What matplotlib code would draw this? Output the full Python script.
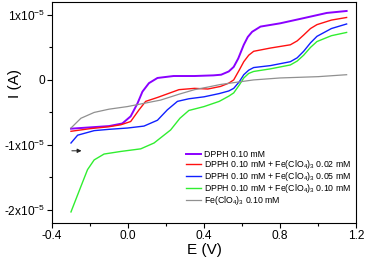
import numpy as np
import matplotlib
matplotlib.use("Agg")
import matplotlib.pyplot as plt

plt.rcParams['font.family'] = ['Liberation Sans', 'DejaVu Sans']
plt.rcParams['mathtext.fontset'] = 'custom'
plt.rcParams['mathtext.rm'] = 'Liberation Sans'
plt.rcParams['mathtext.it'] = 'Liberation Sans'

# potentials (V) and currents (units of 1e-5 A)
e_dpph = [-0.30, -0.2, -0.1, -0.03, 0.014, 0.05, 0.076, 0.11, 0.155, 0.24, 0.35, 0.45, 0.49, 0.53, 0.556, 0.58, 0.609, 0.63, 0.653, 0.697, 0.8, 0.924, 1.046, 1.15]
i_dpph = [-0.75, -0.73, -0.71, -0.67, -0.56, -0.36, -0.18, -0.05, 0.03, 0.06, 0.06, 0.07, 0.08, 0.13, 0.20, 0.33, 0.54, 0.66, 0.74, 0.82, 0.87, 0.95, 1.03, 1.06]

e_red = [-0.30, -0.2, -0.1, -0.038, 0.014, 0.058, 0.093, 0.155, 0.268, 0.35, 0.42, 0.487, 0.53, 0.556, 0.585, 0.609, 0.635, 0.661, 0.749, 0.854, 0.89, 0.924, 0.96, 0.994, 1.07, 1.15]
i_red = [-0.79, -0.75, -0.72, -0.69, -0.64, -0.46, -0.33, -0.27, -0.15, -0.13, -0.14, -0.10, -0.05, 0.0, 0.15, 0.28, 0.38, 0.44, 0.49, 0.54, 0.60, 0.69, 0.79, 0.85, 0.92, 0.96]

e_blue = [-0.30, -0.265, -0.178, -0.1, -0.003, 0.084, 0.155, 0.207, 0.26, 0.32, 0.4, 0.48, 0.53, 0.556, 0.585, 0.609, 0.635, 0.661, 0.749, 0.854, 0.89, 0.924, 0.96, 0.994, 1.07, 1.15]
i_blue = [-0.97, -0.85, -0.78, -0.76, -0.74, -0.71, -0.62, -0.46, -0.33, -0.29, -0.26, -0.21, -0.17, -0.13, -0.03, 0.08, 0.15, 0.19, 0.22, 0.28, 0.34, 0.44, 0.57, 0.67, 0.79, 0.86]

e_green = [-0.30, -0.248, -0.213, -0.178, -0.126, -0.038, 0.067, 0.137, 0.224, 0.273, 0.32, 0.4, 0.48, 0.53, 0.556, 0.585, 0.609, 0.635, 0.661, 0.749, 0.854, 0.89, 0.924, 0.96, 0.994, 1.07, 1.15]
i_green = [-2.03, -1.64, -1.38, -1.23, -1.14, -1.10, -1.06, -0.97, -0.77, -0.59, -0.47, -0.41, -0.33, -0.25, -0.20, -0.08, 0.03, 0.10, 0.13, 0.17, 0.23, 0.29, 0.38, 0.50, 0.59, 0.68, 0.73]

e_fe = [-0.30, -0.248, -0.178, -0.1, -0.003, 0.172, 0.268, 0.35, 0.42, 0.487, 0.661, 0.8, 1.0, 1.15]
i_fe = [-0.74, -0.59, -0.50, -0.45, -0.41, -0.31, -0.22, -0.15, -0.11, -0.07, 0.0, 0.03, 0.05, 0.08]

labels = ['DPPH 0.10 mM',
          'DPPH 0.10 mM + Fe(ClO$_4$)$_3$ 0.02 mM',
          'DPPH 0.10 mM + Fe(ClO$_4$)$_3$ 0.05 mM',
          'DPPH 0.10 mM + Fe(ClO$_4$)$_3$ 0.10 mM',
          'Fe(ClO$_4$)$_3$ 0.10 mM']
colors = ['#8a00ff', '#ff1010', '#1020ff', '#30ee30', '#909090']

y_ticks = [1e-5, 0, -1e-5, -2e-5]
y_ticklabels = ['1x10$^{-5}$', '0', '-1x10$^{-5}$', '-2x10$^{-5}$']
x_ticks = [-0.4, 0.0, 0.4, 0.8, 1.2]

fig = plt.figure(figsize=(3.66, 2.68), dpi=100)
ax = fig.add_axes([0.142, 0.168, 0.831, 0.825])

series = [(e_dpph, i_dpph), (e_red, i_red), (e_blue, i_blue), (e_green, i_green), (e_fe, i_fe)]
widths = [1.4, 1.0, 1.0, 1.0, 0.9]
for (e, i), lab, c, w in zip(series, labels, colors, widths):
    ax.plot(e, np.array(i) * 1e-5, color=c, lw=w, label=lab, solid_joinstyle='round')

# scan direction arrow
ax.annotate('', xy=(-0.23, -1.09e-5), xytext=(-0.31, -1.09e-5),
            arrowprops=dict(arrowstyle='-|>', color='#222222', lw=0.7,
                            mutation_scale=6))

ax.set_xlim(-0.4, 1.2)
ax.set_ylim(-2.2e-5, 1.2e-5)
ax.set_xticks(x_ticks)
ax.set_xticklabels([f'{v:.1f}' for v in x_ticks])
ax.set_xticks([-0.2, 0.2, 0.6, 1.0], minor=True)
ax.set_yticks(y_ticks)
ax.set_yticklabels(y_ticklabels)
ax.set_yticks([0.5e-5, -0.5e-5, -1.5e-5], minor=True)
ax.tick_params(axis='both', which='major', direction='out', length=3.5, width=0.8, labelsize=8.6, pad=1.2)
ax.tick_params(axis='both', which='minor', direction='out', length=2, width=0.8)
for s in ax.spines.values():
    s.set_linewidth(0.8)

ax.set_xlabel('E (V)', fontsize=11, labelpad=1)
ax.set_ylabel('I (A)', fontsize=11)
ax.yaxis.set_label_coords(-0.10, 0.633)

leg = ax.legend(loc='lower right', bbox_to_anchor=(1.0, 0.05), frameon=False,
                fontsize=6.3, handlelength=1.7, handletextpad=0.35,
                labelspacing=-0.12, borderaxespad=0.2)

fig.savefig('out.png', dpi=100)
